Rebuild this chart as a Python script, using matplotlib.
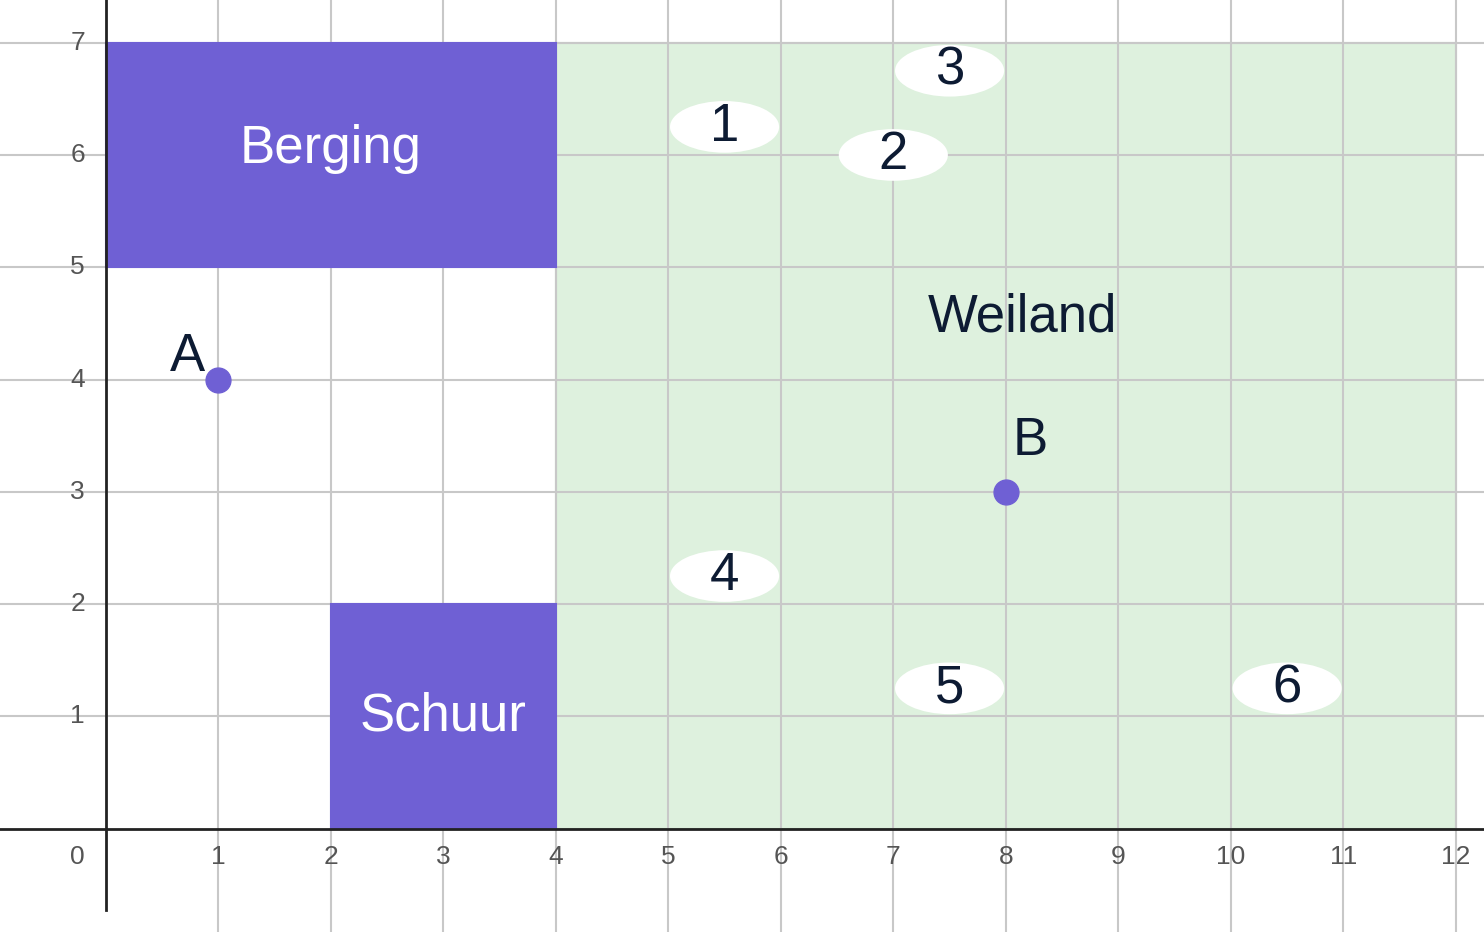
import matplotlib
matplotlib.use("Agg")
import matplotlib.pyplot as plt
from matplotlib.patches import Rectangle, Ellipse

plt.rcParams['font.family'] = ['Liberation Sans', 'DejaVu Sans']

rect_names = ["Weiland", "Berging", "Schuur"]
rect_x = [4, 0, 2]
rect_y = [0, 5, 0]
rect_w = [8, 4, 2]
rect_h = [7, 2, 2]
rect_colors = ["#d9efd9", "#6f60d4", "#6f60d4"]

ell_labels = ["1", "2", "3", "4", "5", "6"]
ell_x = [5.5, 7, 7.5, 5.5, 7.5, 10.5]
ell_y = [6.25, 6, 6.75, 2.25, 1.25, 1.25]

pt_labels = ["A", "B"]
pt_x = [1, 8]
pt_y = [4, 3]

xticks = list(range(0, 13))
yticks = list(range(1, 8))

fig = plt.figure(figsize=(14.84, 9.32), dpi=100)
ax = fig.add_axes([0, 0, 1, 1])
ax.set_xlim(-0.94, 12.25)
ax.set_ylim(-0.92, 7.38)
ax.axis('off')

for x in range(1, 13):
    ax.plot([x, x], [-0.92, 7.38], color='#c8c8c8', lw=1.5, zorder=3)
for y in range(1, 8):
    ax.plot([-0.94, 12.25], [y, y], color='#c8c8c8', lw=1.5, zorder=3)

for n, x, y, w, h, c in zip(rect_names, rect_x, rect_y, rect_w, rect_h, rect_colors):
    ax.add_patch(Rectangle((x, y), w, h, facecolor=c, edgecolor='#a8cca8' if n == "Weiland" else c,
                           lw=1.5, alpha=0.85 if n == "Weiland" else 1, zorder=2 if n == "Weiland" else 4))

ax.text(8.15, 4.55, "Weiland", fontsize=38, color='#0d1b33', ha='center', va='center', zorder=6)
ax.text(2.0, 6.05, "Berging", fontsize=38, color='white', ha='center', va='center', zorder=6)
ax.text(3.0, 1.0, "Schuur", fontsize=38, color='white', ha='center', va='center', zorder=6)

for l, x, y in zip(ell_labels, ell_x, ell_y):
    ax.add_patch(Ellipse((x, y), 0.97, 0.46, facecolor='white', edgecolor='none', zorder=5))
    ax.text(x, y, l, fontsize=38, color='#0d1b33', ha='center', va='center', zorder=6)

ax.scatter(pt_x, pt_y, s=320, color='#6f60d4', zorder=7)
ax.text(pt_x[0] - 0.27, pt_y[0] + 0.2, pt_labels[0], fontsize=38, color='#0d1b33', ha='center', va='center', zorder=7)
ax.text(pt_x[1] + 0.22, pt_y[1] + 0.45, pt_labels[1], fontsize=38, color='#0d1b33', ha='center', va='center', zorder=7)

ax.plot([0, 0], [-0.72, 7.38], color='#222', lw=2, zorder=8)
ax.plot([-0.94, 12.25], [0, 0], color='#222', lw=2, zorder=8)

for x in xticks:
    ax.text(x - (0.25 if x == 0 else 0), -0.25, str(x), fontsize=19, color='#555', ha='center', va='center', zorder=9)
for y in yticks:
    ax.text(-0.25, y, str(y), fontsize=19, color='#555', ha='center', va='center', zorder=9)

fig.savefig("out.png", dpi=100)
